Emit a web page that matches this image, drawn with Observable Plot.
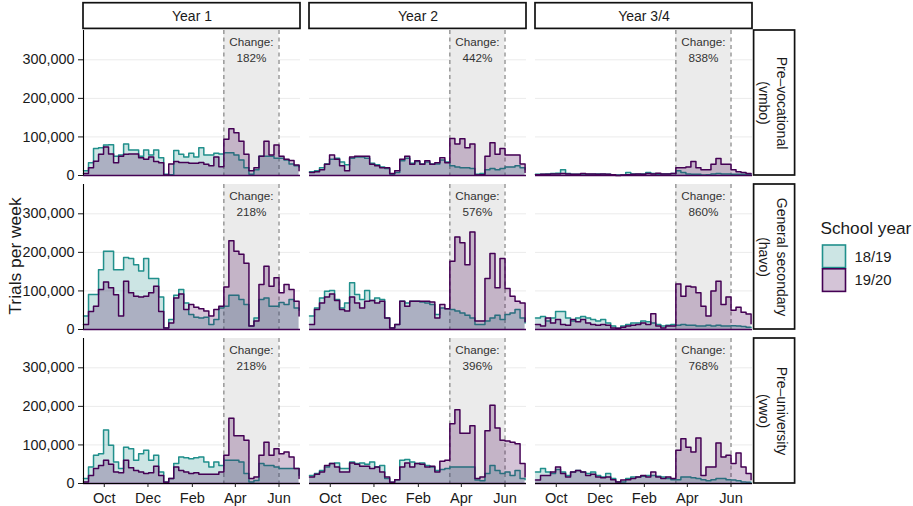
<!DOCTYPE html>
<html><head><meta charset="utf-8">
<script src="https://cdn.jsdelivr.net/npm/d3@7"></script>
<script src="https://cdn.jsdelivr.net/npm/@observablehq/plot@0.6"></script>
<style>
body{margin:0;background:#fff;font-family:"Liberation Sans",Arial,sans-serif;}
#wrap{position:relative;width:913px;height:506px;overflow:hidden;}
#wrap svg{position:absolute;left:0;top:0;}
</style></head><body><div id="wrap"></div>
<script>
// ---- categories ----
const tracks = ["Pre–vocational\n(vmbo)", "General secondary\n(havo)", "Pre–university\n(vwo)"];
const years = ["Year 1", "Year 2", "Year 3/4"];
const schoolYears = ["18/19", "19/20"];
const lineColors = ["#21908C", "#440154"];
const tickLabels = ["Oct", "Dec", "Feb", "Apr", "Jun"];
const yTicks = [0, 100000, 200000, 300000];

// ---- weekly trials (thousands), 44 weeks starting first week of September ----
const vmbo_y1_1819 = [12,33,70,72,79,80,50,53,82,66,66,50,66,53,66,46,3,2,65,55,48,58,48,72,53,53,58,56,59,59,53,40,20,3,15,50,50,50,45,45,40,30,25,22];
const vmbo_y1_1920 = [5,20,37,55,74,56,33,50,55,56,56,46,42,48,36,33,1,30,36,34,34,32,32,34,29,25,48,23,94,121,111,89,55,12,20,50,89,53,79,50,42,39,27,12];
const vmbo_y2_1819 = [10,12,20,30,42,45,35,28,45,48,48,45,32,28,22,18,3,8,38,45,32,36,30,35,30,30,40,35,25,22,20,20,18,3,5,15,18,15,18,22,22,25,20,15];
const vmbo_y2_1920 = [8,10,15,29,53,42,25,12,48,50,50,50,29,25,20,20,5,12,42,50,29,38,29,38,29,33,46,33,96,82,95,72,82,1,2,50,85,55,70,53,53,53,30,8];
const vmbo_y34_1819 = [3,3,4,5,6,15,5,3,3,4,3,3,4,3,3,2,1,1,8,4,3,4,8,5,3,4,4,5,12,8,4,3,3,1,2,4,5,4,4,3,3,3,2,2];
const vmbo_y34_1920 = [2,3,3,4,4,5,4,3,3,5,4,4,3,4,3,2,0,1,2,3,4,3,5,4,6,4,4,5,20,20,22,36,20,15,15,29,44,29,29,15,10,8,5,4];
const havo_y1_1819 = [35,91,91,155,203,203,155,155,187,184,168,152,184,132,132,84,4,26,89,104,69,39,32,30,32,13,26,56,60,89,89,78,65,9,30,78,82,60,60,70,65,78,56,50];
const havo_y1_1920 = [13,47,60,104,123,108,90,35,125,95,86,84,86,95,112,47,4,17,82,92,52,65,58,54,48,35,52,60,110,230,203,195,172,9,22,117,164,112,134,95,117,104,73,35];
const havo_y2_1819 = [35,56,82,99,101,78,56,69,121,91,78,101,75,82,78,30,4,13,73,69,73,73,71,69,65,39,56,54,52,48,43,37,30,13,13,22,30,37,26,39,43,52,30,17];
const havo_y2_1920 = [13,52,69,84,92,75,52,48,84,69,56,73,75,69,73,30,4,13,73,60,73,73,73,73,71,30,65,54,177,240,225,168,253,22,22,132,197,108,184,106,86,73,69,20];
const havo_y34_1819 = [30,34,22,30,47,47,30,22,30,34,30,26,22,26,17,9,3,9,13,17,17,22,20,17,13,9,11,13,11,13,11,11,9,9,11,9,11,9,9,10,9,8,6,5];
const havo_y34_1920 = [13,9,30,17,26,13,11,26,20,26,17,13,11,13,11,4,3,6,9,11,13,17,13,41,9,4,9,9,118,86,112,110,95,60,35,100,125,65,84,50,58,45,40,15];
const vwo_y1_1819 = [13,43,73,77,139,99,56,39,94,90,60,77,86,60,73,30,4,13,52,69,67,64,67,69,56,43,56,47,60,60,60,56,26,4,8,52,47,47,43,39,39,39,39,21];
const vwo_y1_1920 = [4,21,39,47,60,50,30,28,60,41,34,30,26,28,45,21,3,13,43,34,30,26,28,24,24,24,24,30,73,169,124,124,112,13,17,73,107,73,90,77,82,69,39,13];
const vwo_y2_1819 = [21,26,34,43,52,53,39,39,56,52,53,50,56,43,47,13,3,10,60,62,56,52,53,47,43,34,36,39,43,43,43,43,43,9,7,26,47,34,26,30,21,34,13,10];
const vwo_y2_1920 = [17,24,30,47,52,43,30,30,53,50,45,45,39,43,30,17,3,10,43,53,43,52,50,43,45,30,58,60,155,191,130,130,150,13,17,137,203,144,112,110,107,103,52,17];
const vwo_y34_1819 = [30,39,30,26,36,30,21,30,34,30,26,30,21,17,26,13,4,4,13,17,17,19,21,21,19,17,13,10,10,17,17,15,13,10,7,10,13,13,10,9,7,4,3,3];
const vwo_y34_1920 = [9,21,21,30,43,26,17,30,34,30,21,24,17,15,17,10,4,9,10,13,17,21,17,30,17,13,17,13,86,116,94,82,118,21,43,43,105,69,73,52,79,43,26,10];

const changePct = [
  [182, 442, 838],
  [218, 576, 860],
  [218, 396, 768]
];

// ---- table built from the arrays ----
const seriesTable = [
  [[vmbo_y1_1819, vmbo_y1_1920], [vmbo_y2_1819, vmbo_y2_1920], [vmbo_y34_1819, vmbo_y34_1920]],
  [[havo_y1_1819, havo_y1_1920], [havo_y2_1819, havo_y2_1920], [havo_y34_1819, havo_y34_1920]],
  [[vwo_y1_1819, vwo_y1_1920], [vwo_y2_1819, vwo_y2_1920], [vwo_y34_1819, vwo_y34_1920]]
];
const DAY = 864e5;
const start = Date.UTC(2019, 8, 2);
const weekDate = i => new Date(start + 7 * i * DAY);
const xDomain = [new Date(start), new Date(start + 303 * DAY)];
const lockStart = new Date(Date.UTC(2020, 2, 16));
const lockEnd = new Date(Date.UTC(2020, 5, 1));
const lockMid = new Date((+lockStart + +lockEnd) / 2);
const xTicks = [[2019, 9], [2019, 11], [2020, 1], [2020, 3], [2020, 5]].map(([y, m]) => new Date(Date.UTC(y, m, 1)));
const yMax = 376000;
const fillAlpha = 0.23;

const rows = [];
tracks.forEach((t, r) => years.forEach((yr, c) => schoolYears.forEach((s, k) => {
  seriesTable[r][c][k].forEach((v, i) => rows.push({track: t, year: yr, series: s, date: weekDate(i), value: v * 1000}));
})));
const changes = [];
tracks.forEach((t, r) => years.forEach((yr, c) => changes.push({track: t, year: yr, label: "Change:\n" + changePct[r][c] + "%"})));
const topStrips = years.map(yr => ({year: yr, track: tracks[0]}));
const rightStrips = tracks.map(t => ({year: years[2], track: t}));
const leftCells = tracks.map(t => ({year: years[0], track: t}));
const bottomCells = years.map(yr => ({year: yr, track: tracks[2]}));
const bySeries = s => rows.filter(d => d.series === s);

const chart = Plot.plot({
  width: 913, height: 506,
  marginLeft: 83, marginRight: 161, marginTop: 29, marginBottom: 23,
  x: {type: "utc", domain: xDomain},
  y: {domain: [0, yMax]},
  fx: {domain: years, paddingInner: 0.041, axis: null},
  fy: {domain: tracks, paddingInner: 0.06, axis: null},
  style: {fontFamily: "'Liberation Sans', Arial, sans-serif", color: "#1a1a1a", background: "white"},
  marks: [
    Plot.ruleY(yTicks.slice(1), {stroke: "#ebebeb", strokeWidth: 1}),
    Plot.rect([{a: lockStart, b: lockEnd}], {x1: "a", x2: "b", fill: "#ebebeb"}),
    Plot.ruleX([lockStart, lockEnd], {stroke: "#7a7a7a", strokeWidth: 1.1, strokeDasharray: "4,3.5"}),
    Plot.areaY(bySeries("18/19"), {x: "date", y: "value", fx: "year", fy: "track", curve: "step-after", fill: lineColors[0], fillOpacity: fillAlpha}),
    Plot.lineY(bySeries("18/19"), {x: "date", y: "value", fx: "year", fy: "track", curve: "step-after", stroke: lineColors[0], strokeWidth: 1.5}),
    Plot.areaY(bySeries("19/20"), {x: "date", y: "value", fx: "year", fy: "track", curve: "step-after", fill: lineColors[1], fillOpacity: fillAlpha}),
    Plot.lineY(bySeries("19/20"), {x: "date", y: "value", fx: "year", fy: "track", curve: "step-after", stroke: lineColors[1], strokeWidth: 1.5}),
    Plot.ruleY([0], {stroke: lineColors[1], strokeWidth: 1.5}),
    Plot.text(changes, {fx: "year", fy: "track", x: () => lockMid, text: "label", frameAnchor: "top", lineAnchor: "middle", dy: 18.4, fontSize: 11.7, lineHeight: 1.38, fill: "#333"}),
    // facet strips
    Plot.rect(topStrips, {fx: "year", fy: "track", x1: () => xDomain[0], x2: () => xDomain[1], y1: () => yMax, y2: () => yMax, insetTop: -27.3, insetBottom: 1.6, fill: "white", stroke: "#111", strokeWidth: 1.7}),
    Plot.text(topStrips, {fx: "year", fy: "track", x: () => new Date((+xDomain[0] + +xDomain[1]) / 2), text: "year", frameAnchor: "top", lineAnchor: "middle", dy: -14, fontSize: 14, fill: "#1a1a1a"}),
    Plot.rect(rightStrips, {fx: "year", fy: "track", x1: () => xDomain[1], x2: () => xDomain[1], insetLeft: 1.6, insetRight: -42.6, fill: "white", stroke: "#111", strokeWidth: 1.7}),
    Plot.text(rightStrips, {fx: "year", fy: "track", x: () => xDomain[1], text: "track", frameAnchor: "middle", rotate: 90, dx: 21, fontSize: 14, lineHeight: 1.25, fill: "#1a1a1a"}),
    // axes
    Plot.ruleX(leftCells, {fx: "year", fy: "track", x: () => xDomain[0], stroke: "black", strokeWidth: 1.1}),
    Plot.ruleY(bottomCells, {fx: "year", fy: "track", y: () => 0, stroke: "black", strokeWidth: 1.1}),
    Plot.axisY({ticks: yTicks, tickFormat: d3.format(","), tickSize: 5, tickPadding: 4, fontSize: 14.4, label: null, fill: "#1a1a1a"}),
    Plot.axisX({ticks: xTicks, tickFormat: d => tickLabels[xTicks.findIndex(t => +t === +d)], tickSize: 4, tickPadding: 5, fontSize: 14.6, label: null, fill: "#1a1a1a"})
  ]
});
const wrap = document.getElementById("wrap");
wrap.appendChild(chart);

// y-axis title and legend (overlay)
const ov = d3.select(wrap).append("svg").attr("width", 913).attr("height", 506)
  .style("pointer-events", "none").style("font-family", "'Liberation Sans', Arial, sans-serif");
ov.append("text").attr("transform", "translate(15,256) rotate(-90)").attr("text-anchor", "middle")
  .attr("dominant-baseline", "central").attr("font-size", 17.4).attr("fill", "#1a1a1a").text("Trials per week");
ov.append("text").attr("x", 820.5).attr("y", 228).attr("dominant-baseline", "central")
  .attr("font-size", 17.2).attr("fill", "#1a1a1a").text("School year");
schoolYears.forEach((s, k) => {
  const y0 = 245 + k * 23.8;
  ov.append("rect").attr("x", 822.5).attr("y", y0).attr("width", 23).attr("height", 22.6)
    .attr("fill", lineColors[k]).attr("fill-opacity", fillAlpha).attr("stroke", "none");
  ov.append("rect").attr("x", 822.5).attr("y", y0).attr("width", 23).attr("height", 22.6)
    .attr("fill", "none").attr("stroke", lineColors[k]).attr("stroke-width", 1.6);
  ov.append("text").attr("x", 854.5).attr("y", y0 + 11.5).attr("dominant-baseline", "central")
    .attr("font-size", 14.8).attr("fill", "#1a1a1a").text(s);
});
</script></body></html>
